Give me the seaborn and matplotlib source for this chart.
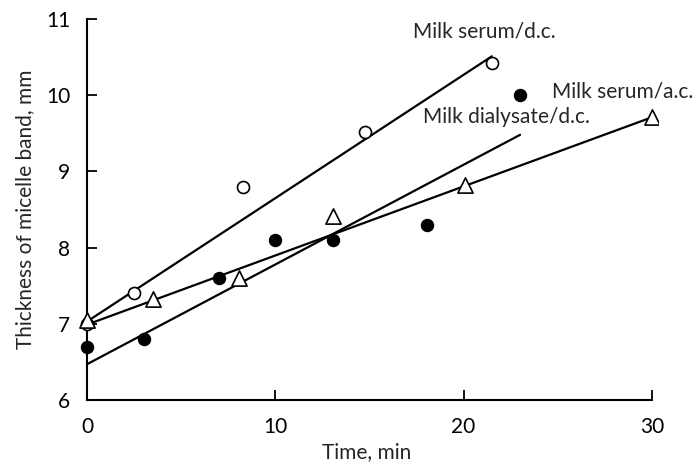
import matplotlib
matplotlib.use("Agg")
import matplotlib.pyplot as plt
import seaborn as sns
import pandas as pd
import numpy as np

# Data
serum_dc_x = [0, 2.5, 8.3, 14.75, 21.5]
serum_dc_y = [7.0, 7.4, 8.8, 9.52, 10.42]

serum_ac_x = [0, 3.05, 7.0, 10.0, 13.05, 18.05, 23.0]
serum_ac_y = [6.7, 6.8, 7.6, 8.1, 8.1, 8.3, 10.0]

dialysate_x = [0, 3.5, 8.1, 13.05, 20.05, 30.0]
dialysate_y = [7.05, 7.32, 7.6, 8.41, 8.82, 9.72]

# fitted lines (endpoints as drawn)
fit_serum_dc_x = [0, 21.5]
fit_serum_dc_y = [7.03, 10.51]
fit_serum_ac_x = [0, 23.0]
fit_serum_ac_y = [6.47, 9.48]
fit_dialysate_x = [0, 30.0]
fit_dialysate_y = [6.99, 9.71]

x_ticks = [0, 10, 20, 30]
y_ticks = [6, 7, 8, 9, 10, 11]

sns.set_theme(style="ticks")
plt.rcParams['font.family'] = ['Lato', 'DejaVu Sans']

fig = plt.figure(figsize=(6.94, 4.62), dpi=100)
ax = fig.add_axes([0.109, 0.134, 0.8385, 0.825])

lw = 1.6
sns.lineplot(x=fit_serum_dc_x, y=fit_serum_dc_y, ax=ax, color="black", lw=lw)
sns.lineplot(x=fit_serum_ac_x, y=fit_serum_ac_y, ax=ax, color="black", lw=lw)
sns.lineplot(x=fit_dialysate_x, y=fit_dialysate_y, ax=ax, color="black", lw=lw)

sns.scatterplot(x=serum_dc_x, y=serum_dc_y, ax=ax, marker="o", s=75,
                facecolor="white", edgecolor="black", linewidth=1.2, zorder=3)
sns.scatterplot(x=serum_ac_x, y=serum_ac_y, ax=ax, marker="o", s=75,
                color="black", edgecolor="black", linewidth=1.0, zorder=3)
sns.scatterplot(x=dialysate_x, y=dialysate_y, ax=ax, marker="^", s=120,
                facecolor="white", edgecolor="black", linewidth=1.2, zorder=3)

ax.set_xlim(-0.6, 30.3)
ax.set_ylim(6, 11)
ax.set_xticks(x_ticks)
ax.set_yticks(y_ticks)
ax.tick_params(direction="in", length=7, width=1.3, labelsize=15, colors="black", pad=12)
for s in ["top", "right"]:
    ax.spines[s].set_visible(False)
for s in ["left", "bottom"]:
    ax.spines[s].set_linewidth(1.5)
    ax.spines[s].set_color("black")
ax.spines["left"].set_position(("data", 0))
ax.spines["bottom"].set_bounds(0, 30)

ax.set_xlabel("Time, min", fontsize=15, labelpad=4)
ax.set_ylabel("Thickness of micelle band, mm", fontsize=15, labelpad=8)

ax.text(17.3, 10.83, "Milk serum/d.c.", fontsize=15, va="center", ha="left")
ax.text(24.7, 10.05, "Milk serum/a.c.", fontsize=15, va="center", ha="left")
ax.text(17.85, 9.71, "Milk dialysate/d.c.", fontsize=15, va="center", ha="left")

fig.savefig("out.png", dpi=100)
